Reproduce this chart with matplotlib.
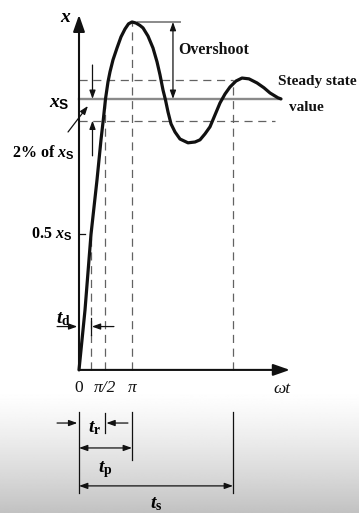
import numpy as np
import matplotlib
matplotlib.use("Agg")
import matplotlib.pyplot as plt

# ------------------------------------------------------------
# Step response of an underdamped second-order system
# ------------------------------------------------------------

# omega*t (rad) and response normalised to the steady-state value x_S
omega_t = [0.000, 0.356, 0.711, 1.067, 1.304, 1.440, 1.571, 1.719, 1.838,
           2.015, 2.253, 2.490, 2.727, 2.934, 3.142, 3.379, 3.616, 3.794,
           4.090, 4.386, 4.624, 4.801, 4.979, 5.127, 5.276, 5.454, 5.691,
           5.987, 6.461, 6.876, 7.173, 7.469, 7.765, 8.062, 8.358, 8.654,
           8.951, 9.307, 9.662, 10.077, 10.551, 10.966, 11.322, 11.796, 11.974]
response = [0.000, 0.221, 0.500, 0.701, 0.849, 0.923, 1.000, 1.063, 1.100,
            1.144, 1.188, 1.229, 1.258, 1.277, 1.284, 1.280, 1.271, 1.262,
            1.232, 1.188, 1.137, 1.089, 1.033, 0.996, 0.952, 0.908, 0.878,
            0.852, 0.838, 0.841, 0.849, 0.871, 0.897, 0.941, 0.985, 1.018,
            1.044, 1.066, 1.077, 1.074, 1.059, 1.041, 1.022, 1.004, 1.000]

# characteristic times (rad) and levels (fraction of x_S)
t_delay = 0.711
t_rise = np.pi / 2
t_peak = np.pi
t_settle = 9.13
x_steady = 1.0
x_half = 0.5
band_hi = 1.07
band_lo = 0.92

tick_pos = [0, np.pi / 2, np.pi]
tick_text = ["0", "π/2", "π"]

# ------------------------------------------------------------
# Styling
# ------------------------------------------------------------
plt.rcParams["mathtext.fontset"] = "custom"
plt.rcParams["mathtext.rm"] = "Liberation Serif:bold"
plt.rcParams["mathtext.it"] = "Liberation Serif:italic:bold"
plt.rcParams["mathtext.sf"] = "Liberation Sans:bold"

SERIF = "Liberation Serif"
INK = "#111111"
GRAY = "#8a8a8a"
DASH = "#626262"
DASHES = (0, (6.5, 4.5))

fig = plt.figure(figsize=(3.59, 5.13), dpi=100)
ax = fig.add_axes([0, 0, 1, 1])
ax.set_xlim(-4.683, 16.598)
ax.set_ylim(-0.528, 1.365)
ax.axis("off")

# soft grey fade at the bottom of the sheet
fade = 1 - 0.24 * np.linspace(0, 1, 200) ** 1.3
ax.imshow(fade[:, None], cmap="gray", vmin=0, vmax=1, aspect="auto",
          extent=[0, 1, 0, 0.24], transform=ax.transAxes, zorder=0)


def arrow(x0, y0, x1, y1, style="-|>", lw=1.0, head=(0.55, 0.22), color=INK):
    ax.annotate("", xy=(x1, y1), xytext=(x0, y0),
                arrowprops=dict(arrowstyle=f"{style},head_length={head[0]},head_width={head[1]}",
                                lw=lw, color=color, shrinkA=0, shrinkB=0), zorder=4)


# axes with arrow tips
arrow(0, 0, 0, 1.31, lw=1.5, head=(1.0, 0.35))
arrow(0, 0, 12.5, 0, lw=1.5, head=(1.0, 0.35))

# steady-state line and tolerance band
ax.plot([0, 11.9], [x_steady, x_steady], color=GRAY, lw=1.7, zorder=2)
ax.plot([0, t_settle], [band_hi, band_hi], color=DASH, lw=0.9, ls=DASHES, zorder=2)
ax.plot([0, 11.6], [band_lo, band_lo], color=DASH, lw=0.9, ls=DASHES, zorder=2)

# vertical markers for t_d, t_r, t_p, t_s
peak = max(response)
ax.plot([t_delay, t_delay], [0, x_half], color=DASH, lw=0.9, ls=DASHES, zorder=2)
ax.plot([t_rise, t_rise], [0, x_steady], color=DASH, lw=0.9, ls=DASHES, zorder=2)
ax.plot([t_peak, t_peak], [0, peak], color=DASH, lw=0.9, ls=DASHES, zorder=2)
ax.plot([t_settle, t_settle], [0, band_hi], color=DASH, lw=0.9, ls=DASHES, zorder=2)

# response curve
ax.plot(omega_t, response, color=INK, lw=2.3, solid_capstyle="round",
        solid_joinstyle="round", zorder=3)

# 0.5 x_S tick
ax.plot([0, 0.35], [x_half, x_half], color=INK, lw=0.9, zorder=3)

# overshoot
ax.plot([3.5, 6.0], [peak, peak], color=GRAY, lw=1.4, zorder=2)
arrow(5.57, x_steady, 5.57, peak, style="<|-|>", lw=0.9, head=(0.5, 0.18))
ax.text(5.87, 1.18, "Overshoot", family=SERIF, weight="bold", fontsize=11.5,
        va="center", ha="left", color=INK)
ax.text(11.8, 1.063, "Steady state", family=SERIF, weight="bold", fontsize=11,
        va="center", ha="left", color=INK)
ax.text(12.45, 0.97, "value", family=SERIF, weight="bold", fontsize=11,
        va="center", ha="left", color=INK)

# 2 % band arrows
arrow(0.8, 1.125, 0.8, x_steady, lw=0.9, head=(0.5, 0.18))
arrow(0.8, 0.79, 0.8, band_lo, lw=0.9, head=(0.5, 0.18))
arrow(-0.65, 0.878, 0.53, 0.974, lw=0.9, head=(0.5, 0.18))

# axis labels
ax.text(-0.77, 1.303, r"$x$", fontsize=14, ha="center", va="center")
ax.text(-0.55, x_steady - 0.015, r"$x_{\mathsf{S}}$", fontsize=14,
        ha="right", va="center")
ax.text(-4.0, 0.80, r"2% of $x_{\mathsf{S}}$", family=SERIF, weight="bold",
        fontsize=11.5, ha="left", va="center")
ax.text(-0.42, x_half, r"0.5 $x_{\mathsf{S}}$", family=SERIF, weight="bold",
        fontsize=11.5, ha="right", va="center")

for pos, txt in zip(tick_pos, tick_text):
    ax.text(pos, -0.066, txt, family=SERIF, style="italic" if "π" in txt else "normal",
            fontsize=12.5, ha="center", va="center", color=INK)
ax.text(12.03, -0.072, "ωt", family=SERIF, style="italic", fontsize=12.5,
        ha="center", va="center", color=INK)

# delay time
y_td = 0.16
arrow(-1.30, y_td, -0.1, y_td, lw=0.9, head=(0.5, 0.18))
ax.plot([t_delay, t_delay], [y_td - 0.03, y_td + 0.03], color=INK, lw=0.9, zorder=3)
arrow(2.07, y_td, t_delay + 0.05, y_td, lw=0.9, head=(0.5, 0.18))
ax.text(-0.9, 0.19, r"$t_{\mathrm{d}}$", fontsize=14, ha="center", va="center")

# rise, peak and settling time brackets below the axis
y_top, y_bot = -0.155, -0.454
ax.plot([0, 0], [y_top, y_bot], color=INK, lw=0.9)
ax.plot([t_settle, t_settle], [y_top, y_bot], color=INK, lw=0.9)
ax.plot([t_peak, t_peak], [y_top, -0.332], color=INK, lw=0.9)
ax.plot([t_rise, t_rise], [-0.159, -0.232], color=INK, lw=0.9)

y_tr = -0.196
arrow(-1.30, y_tr, -0.1, y_tr, lw=0.9, head=(0.5, 0.18))
arrow(2.9, y_tr, t_rise + 0.05, y_tr, lw=0.9, head=(0.5, 0.18))
ax.text(0.95, -0.214, r"$t_{\mathrm{r}}$", fontsize=14, ha="center", va="center")

y_tp = -0.288
arrow(0, y_tp, t_peak, y_tp, style="<|-|>", lw=0.9, head=(0.5, 0.18))
ax.text(t_peak / 2, -0.369, r"$t_{\mathrm{p}}$", fontsize=14, ha="center", va="center")

y_ts = -0.428
arrow(0, y_ts, t_settle, y_ts, style="<|-|>", lw=0.9, head=(0.5, 0.18))
ax.text(t_settle / 2, -0.492, r"$t_{\mathrm{s}}$", fontsize=14, ha="center", va="center")

fig.savefig("out.png", dpi=100)
